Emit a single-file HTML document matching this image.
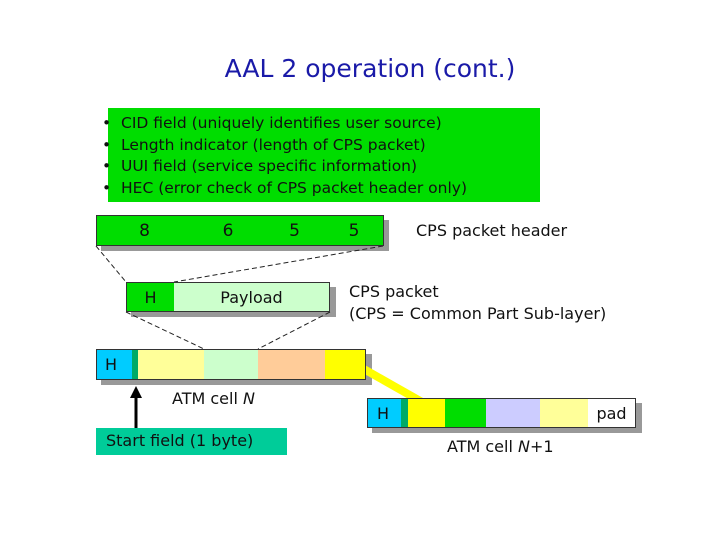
<!DOCTYPE html>
<html><head><style>
body{margin:0;width:720px;height:540px;background:#fff;position:relative;font-family:"DejaVu Sans","Liberation Sans",sans-serif;overflow:hidden}
.a{position:absolute;box-sizing:border-box}
.b{border:1px solid #333;display:flex;align-items:center;justify-content:center;font-size:17px;color:#111}
.t{position:absolute;font-size:16px;color:#111;white-space:nowrap}
</style></head><body>
<div class="t" style="left:0;width:740px;text-align:center;top:54px;font-size:25px;color:#1a1aa8">AAL 2 operation (cont.)</div>
<div class="a" style="left:108px;top:108px;width:432px;height:94px;background:#00dd00"></div>
<div class="t" style="left:102px;top:113px;line-height:21.5px;font-size:15.5px">•&nbsp;&nbsp;CID field (uniquely identifies user source)<br>•&nbsp;&nbsp;Length indicator (length of CPS packet)<br>•&nbsp;&nbsp;UUI field (service specific information)<br>•&nbsp;&nbsp;HEC (error check of CPS packet header only)</div>
<svg class="a" style="left:0;top:0" width="720" height="540">
<g fill="#999"><rect x="101" y="220" width="288" height="31"/><rect x="131" y="287" width="205" height="30"/><rect x="101" y="354" width="271" height="31"/><rect x="372" y="403" width="270" height="30"/></g>
<g stroke="#222" stroke-width="1" stroke-dasharray="5,3" fill="none"><line x1="96" y1="246" x2="126" y2="282"/><line x1="383" y1="246" x2="174" y2="282"/><line x1="126" y1="312" x2="204" y2="349"/><line x1="330" y1="312" x2="258" y2="349"/></g>
<line x1="362" y1="368" x2="422" y2="402" stroke="#ffff00" stroke-width="8"/>
<line x1="136" y1="428" x2="136" y2="396" stroke="#000" stroke-width="3"/><polygon points="130,398 142,398 136,386" fill="#000"/>
</svg>
<div class="a b" style="left:96px;top:215px;width:97px;height:31px;background:#00dd00">8</div>
<div class="a b" style="left:192px;top:215px;width:73px;height:31px;background:#00dd00;border-left:none">6</div>
<div class="a b" style="left:264px;top:215px;width:62px;height:31px;background:#00dd00;border-left:none">5</div>
<div class="a b" style="left:325px;top:215px;width:59px;height:31px;background:#00dd00;border-left:none">5</div>
<div class="t" style="left:416px;top:221px">CPS packet header</div>
<div class="a b" style="left:126px;top:282px;width:49px;height:30px;background:#00dd00;font-size:16px">H</div>
<div class="a b" style="left:174px;top:282px;width:156px;height:30px;background:#ccffcc;border-left:none;font-size:16px">Payload</div>
<div class="t" style="left:349px;top:281px;line-height:22px">CPS packet<br>(CPS = Common Part Sub-layer)</div>
<div class="a b" style="left:96px;top:349px;width:37px;height:31px;background:#00ccff;font-size:16px;justify-content:flex-start;padding-left:8px">H</div>
<div class="a b" style="left:132px;top:349px;width:7px;height:31px;background:#00aa66;border-left:none"></div>
<div class="a b" style="left:138px;top:349px;width:67px;height:31px;background:#ffff99;border-left:none"></div>
<div class="a b" style="left:204px;top:349px;width:55px;height:31px;background:#ccffcc;border-left:none"></div>
<div class="a b" style="left:258px;top:349px;width:68px;height:31px;background:#ffcc99;border-left:none"></div>
<div class="a b" style="left:325px;top:349px;width:41px;height:31px;background:#ffff00;border-left:none"></div>
<div class="t" style="left:172px;top:389px">ATM cell <i>N</i></div>
<div class="a b" style="left:367px;top:398px;width:35px;height:30px;background:#00ccff;font-size:16px;justify-content:flex-start;padding-left:9px">H</div>
<div class="a b" style="left:401px;top:398px;width:8px;height:30px;background:#00aa66;border-left:none"></div>
<div class="a b" style="left:408px;top:398px;width:38px;height:30px;background:#ffff00;border-left:none"></div>
<div class="a b" style="left:445px;top:398px;width:42px;height:30px;background:#00dd00;border-left:none"></div>
<div class="a b" style="left:486px;top:398px;width:55px;height:30px;background:#ccccff;border-left:none"></div>
<div class="a b" style="left:540px;top:398px;width:49px;height:30px;background:#ffff99;border-left:none"></div>
<div class="a b" style="left:588px;top:398px;width:48px;height:30px;background:#fff;border-left:none;font-size:16px">pad</div>
<div class="t" style="left:447px;top:437px">ATM cell <i>N</i>+1</div>
<div class="a" style="left:96px;top:428px;width:191px;height:27px;background:#00cc99"></div>
<div class="t" style="left:106px;top:431px">Start field (1 byte)</div>
</body></html>
